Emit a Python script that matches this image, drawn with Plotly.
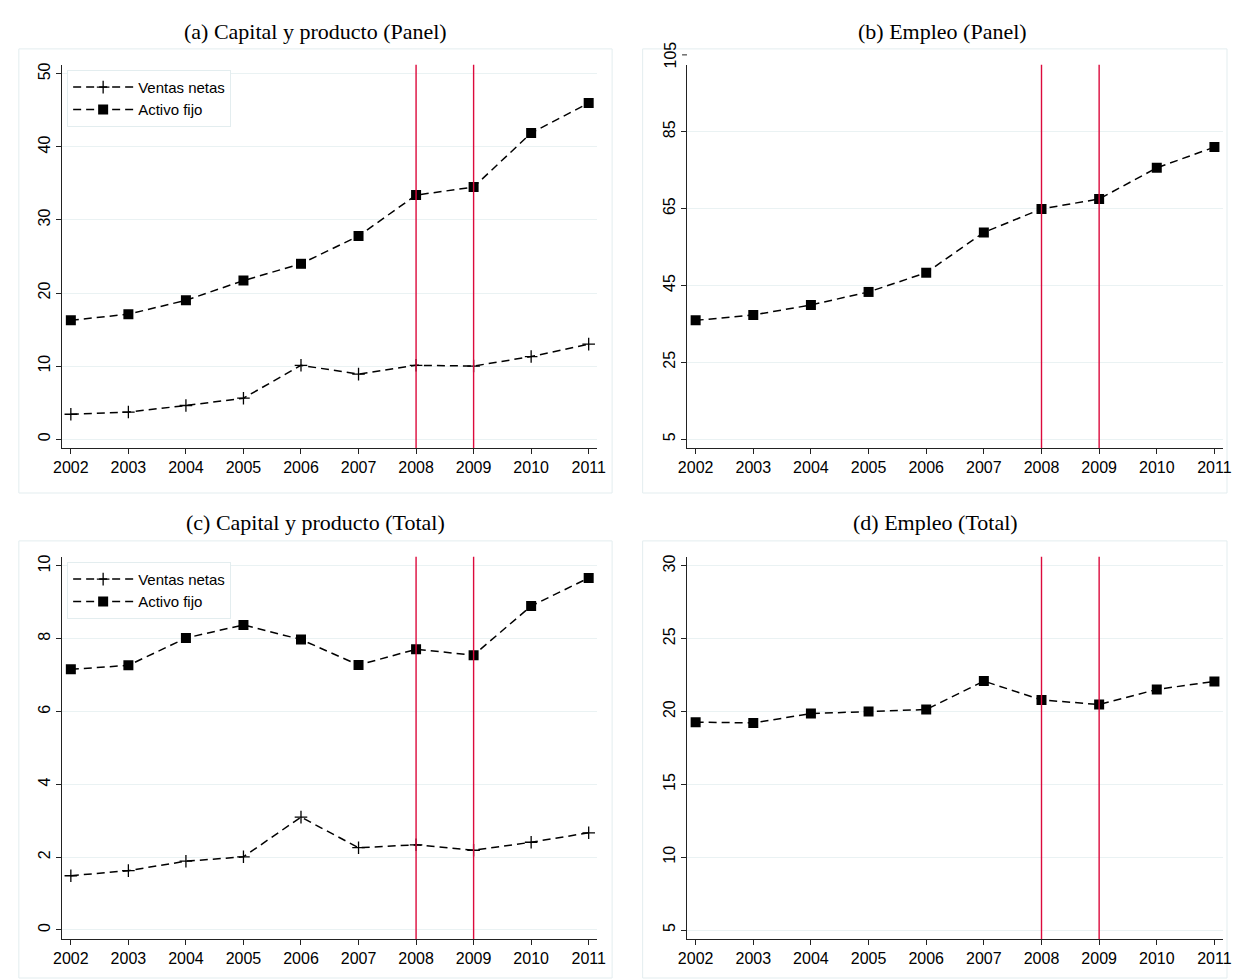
import plotly.graph_objects as go

W, H = 1237, 979

years = [2002, 2003, 2004, 2005, 2006, 2007, 2008, 2009, 2010, 2011]
crisis_years = [2008, 2009]

# (a) Capital y producto (Panel)
ventas_panel = [3.4, 3.7, 4.6, 5.6, 10.1, 8.9, 10.1, 10.0, 11.3, 13.0]
activo_panel = [16.26, 17.1, 19.0, 21.7, 24.0, 27.8, 33.4, 34.5, 41.9, 46.0]
# (b) Empleo (Panel)
empleo_panel = [35.9, 37.3, 39.9, 43.3, 48.3, 58.8, 64.9, 67.5, 75.6, 81.0]
# (c) Capital y producto (Total)
ventas_total = [1.49, 1.63, 1.89, 2.01, 3.10, 2.26, 2.34, 2.19, 2.41, 2.67]
activo_total = [7.16, 7.27, 8.02, 8.38, 7.98, 7.28, 7.71, 7.55, 8.90, 9.67]
# (d) Empleo (Total)
empleo_total = [19.27, 19.22, 19.86, 20.0, 20.14, 22.09, 20.80, 20.48, 21.52, 22.07]

titles = ["(a) Capital y producto (Panel)", "(b) Empleo (Panel)",
          "(c) Capital y producto (Total)", "(d) Empleo (Total)"]
yticks = [[0, 10, 20, 30, 40, 50], [5, 25, 45, 65, 85],
          [0, 2, 4, 6, 8, 10], [5, 10, 15, 20, 25, 30]]
yranges = [[-1.23, 51.23], [2.66, 102.4], [-0.25, 10.25], [4.38, 30.62]]
xrange_ = [2001.85, 2011.15]


def px(p):
    return p / W


def py(p):
    return 1 - p / H


# plot areas in pixels: (left, right, top, bottom)
areas = [(54, 597, 63, 447), (688, 1232, 63, 447),
         (54, 597, 556, 939), (688, 1232, 556, 939)]
# outer graph boxes
boxes = [(10, 612, 47, 492), (643, 1236, 47, 492),
         (10, 612, 540, 978), (643, 1236, 540, 978)]
title_pos = [(311, 30), (947, 30), (311, 522), (940, 522)]

grid_col = "#eaf2f3"
red = "#dc0a3c"
dash = "8px,5px"

fig = go.Figure()


def line_trace(y, n, name, symbol, legend=None):
    is_plus = symbol == "cross-thin-open"
    return go.Scatter(
        x=years, y=y, mode="lines+markers", name=name,
        xaxis=f"x{n}" if n > 1 else "x", yaxis=f"y{n}" if n > 1 else "y",
        line=dict(color="black", width=1.5, dash=dash),
        marker=dict(symbol=symbol, size=9 if is_plus else 10, color="black",
                    line=dict(width=1.3 if is_plus else 0, color="black")),
        showlegend=legend is not None, legend=legend or "legend",
    )


fig.add_trace(line_trace(ventas_panel, 1, "Ventas netas", "cross-thin-open", "legend"))
fig.add_trace(line_trace(activo_panel, 1, "Activo fijo", "square", "legend"))
fig.add_trace(line_trace(empleo_panel, 2, "Empleo", "square"))
fig.add_trace(line_trace(ventas_total, 3, "Ventas netas", "cross-thin-open", "legend2"))
fig.add_trace(line_trace(activo_total, 3, "Activo fijo", "square", "legend2"))
fig.add_trace(line_trace(empleo_total, 4, "Empleo", "square"))

tick_font = dict(family="Liberation Sans, Arial, sans-serif", size=16, color="black")
layout = {}
for i, (l, r, t, b) in enumerate(areas):
    n = i + 1
    sx = "" if n == 1 else str(n)
    layout[f"xaxis{sx}"] = dict(
        domain=[px(l), px(r)], range=xrange_, anchor=f"y{sx}",
        tickvals=years, showgrid=False, zeroline=False,
        showline=True, linecolor="#222", linewidth=1,
        ticks="outside", ticklen=5, tickcolor="#222", tickfont=tick_font,
    )
    layout[f"yaxis{sx}"] = dict(
        domain=[py(b), py(t)], range=yranges[i], anchor=f"x{sx}",
        tickvals=yticks[i], tickangle=-90, showgrid=True, gridcolor=grid_col,
        zeroline=False, showline=True, linecolor="#222", linewidth=1,
        ticks="outside", ticklen=5, tickcolor="#222", tickfont=tick_font,
    )
    # crisis lines
    for yr in crisis_years:
        fig.add_shape(type="line", xref=f"x{sx}", yref=f"y{sx} domain",
                      x0=yr, x1=yr, y0=0, y1=1,
                      line=dict(color=red, width=1.4), layer="above")
    # outer box
    bl, br, bt, bb = boxes[i]
    fig.add_shape(type="rect", xref="paper", yref="paper",
                  x0=px(bl), x1=px(br), y0=py(bb), y1=py(bt),
                  line=dict(color="#e3edef", width=1), layer="below")
    tx, ty = title_pos[i]
    fig.add_annotation(text=titles[i], xref="paper", yref="paper",
                       x=px(tx), y=py(ty), xanchor="center", yanchor="middle",
                       showarrow=False,
                       font=dict(family="Liberation Serif, Times New Roman, serif",
                                 size=22, color="black"))

# the 105 tick in panel (b) sits above the plot region
r0, r1 = yranges[1]
frac105 = (105 - r0) / (r1 - r0)
fig.add_shape(type="line", xref="paper", yref="y2 domain",
              x0=px(areas[1][0] - 5), x1=px(areas[1][0]), y0=frac105, y1=frac105,
              line=dict(color="#222", width=1))
fig.add_annotation(text="105", xref="paper", yref="y2 domain",
                   x=px(areas[1][0] - 6), y=frac105, xanchor="right", yanchor="middle",
                   showarrow=False, textangle=-90, font=tick_font)

legend_style = dict(
    xanchor="left", yanchor="top", bgcolor="white",
    bordercolor="#e3edef", borderwidth=1, itemwidth=60,
    font=dict(family="Liberation Sans, Arial, sans-serif", size=15, color="black"),
    tracegroupgap=0,
)

fig.update_layout(
    width=W, height=H,
    margin=dict(l=0, r=0, t=0, b=0),
    paper_bgcolor="white", plot_bgcolor="white",
    legend=dict(x=px(59), y=py(68), **legend_style),
    legend2=dict(x=px(59), y=py(561), **legend_style),
    **layout,
)

fig.write_html("out.html", config={"displayModeBar": False},
               post_script="document.body.style.margin='0px';")
